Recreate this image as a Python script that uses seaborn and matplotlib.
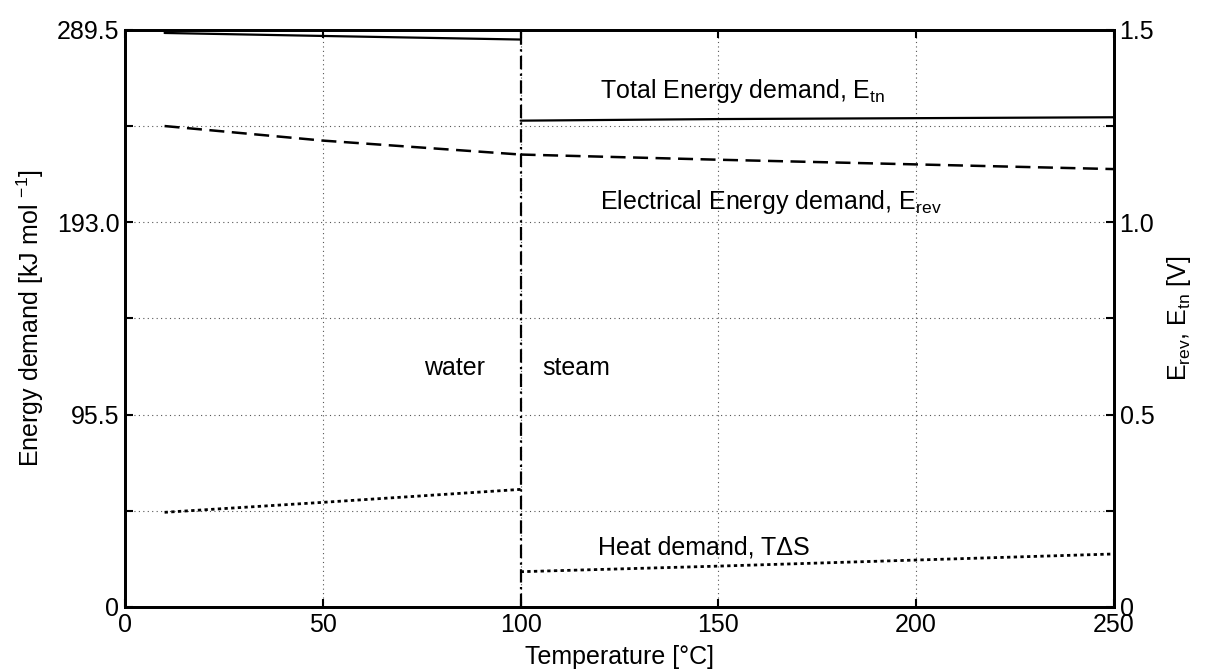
import numpy as np
import pandas as pd
import matplotlib
matplotlib.use('Agg')
import matplotlib.pyplot as plt
import seaborn as sns

# Data
temp_water = [10, 50, 100]
temp_steam = [100, 150, 250]

total_water = [288.0, 286.5, 284.7]
total_steam = [244.0, 244.8, 245.7]

elec_water = [241.3, 234.0, 227.0]
elec_steam = [227.0, 224.4, 219.7]

heat_water = [47.5, 52.5, 59.0]
heat_steam = [17.7, 20.5, 26.6]

phase_x = [100, 100]
phase_y = [0, 289.5]

left_ticks = [0, 48.25, 96.5, 144.75, 193.0, 241.25, 289.5]
left_labels = ['0', '', '95.5', '', '193.0', '', '289.5']
right_ticks = [0, 0.25, 0.5, 0.75, 1.0, 1.25, 1.5]
right_labels = ['0', '', '0.5', '', '1.0', '', '1.5']
x_ticks = [0, 50, 100, 150, 200, 250]

sns.set_style('white')
plt.rcParams['font.family'] = ['Liberation Sans', 'DejaVu Sans']
plt.rcParams['mathtext.fontset'] = 'custom'
plt.rcParams['mathtext.rm'] = 'Liberation Sans'
plt.rcParams['mathtext.it'] = 'Liberation Sans'
plt.rcParams['text.color'] = 'black'
plt.rcParams['axes.labelcolor'] = 'black'
plt.rcParams['xtick.color'] = 'black'
plt.rcParams['ytick.color'] = 'black'
plt.rcParams['axes.linewidth'] = 2
fs = 18

fig = plt.figure(figsize=(12.09, 6.69), dpi=100)
ax = fig.add_axes([0.1034, 0.0927, 0.8180, 0.8625])

# Lines
sns.lineplot(x=temp_water, y=total_water, ax=ax, color='black', lw=1.6)
sns.lineplot(x=temp_steam, y=total_steam, ax=ax, color='black', lw=1.6)
sns.lineplot(x=temp_water, y=elec_water, ax=ax, color='black', lw=1.8, linestyle=(0, (6, 3)))
sns.lineplot(x=temp_steam, y=elec_steam, ax=ax, color='black', lw=1.8, linestyle=(0, (6, 3)))
sns.lineplot(x=temp_water, y=heat_water, ax=ax, color='black', lw=2, linestyle=(0, (1.2, 1.2)))
sns.lineplot(x=temp_steam, y=heat_steam, ax=ax, color='black', lw=2, linestyle=(0, (1.2, 1.2)))
sns.lineplot(x=phase_x, y=phase_y, ax=ax, color='black', lw=1.6, estimator=None, sort=False,
             linestyle=(0, (6, 2, 1, 2)), zorder=5)

ax.set_xlim(0, 250)
ax.set_ylim(0, 289.5)
ax.set_xticks(x_ticks)
ax.set_yticks(left_ticks)
ax.set_yticklabels(left_labels)
ax.grid(True, linestyle=(0, (1, 3)), color='#555555', lw=0.8)
ax.tick_params(direction='in', length=6, width=1.5, labelsize=fs, pad=4,
               top=True, left=True, bottom=True)
for s in ax.spines.values():
    s.set_linewidth(2)
    s.set_color('black')

ax.set_xlabel('Temperature [°C]', fontsize=fs, labelpad=6)
ax.set_ylabel(r'Energy demand [kJ mol $^{-1}$]', fontsize=fs, labelpad=8)

ax2 = ax.twinx()
ax2.set_ylim(0, 1.5)
ax2.set_yticks(right_ticks)
ax2.set_yticklabels(right_labels)
ax2.tick_params(direction='in', length=6, width=1.5, labelsize=fs, pad=4)
ax2.set_ylabel(r'E$_{\rm rev}$, E$_{\rm tn}$ [V]', fontsize=fs, labelpad=8)
for s in ax2.spines.values():
    s.set_linewidth(2)
    s.set_color('black')

# Annotations
ax.text(120, 259, r'Total Energy demand, E$_{\rm tn}$', fontsize=fs, va='center')
ax.text(120, 203, r'Electrical Energy demand, E$_{\rm rev}$', fontsize=fs, va='center')
ax.text(75.5, 120, 'water', fontsize=fs, va='center')
ax.text(105.5, 120, 'steam', fontsize=fs, va='center')
ax.text(119.5, 30, 'Heat demand, TΔS', fontsize=fs, va='center')

fig.savefig('out.png', dpi=100)
